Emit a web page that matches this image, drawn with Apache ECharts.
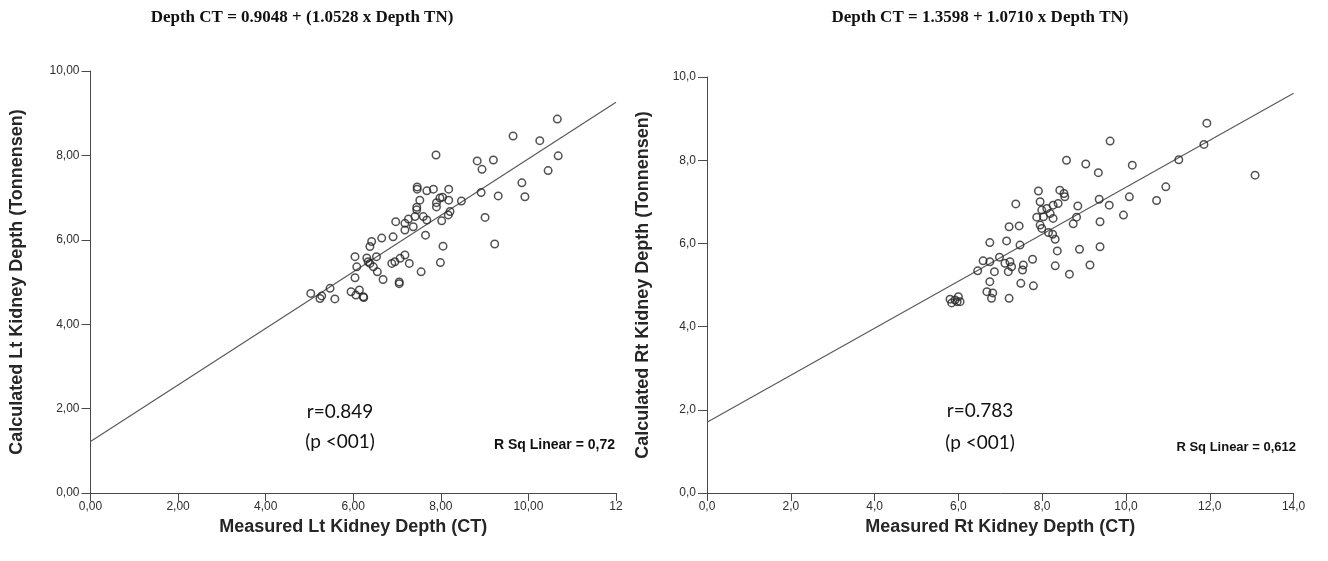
<!DOCTYPE html>
<html>
<head>
<meta charset="utf-8">
<script src="https://cdn.jsdelivr.net/npm/echarts@6/dist/echarts.min.js"></script>
<style>
html,body{margin:0;padding:0;background:#fff;}
#chart{width:1328px;height:561px;}
</style>
</head>
<body>
<div id="chart"></div>
<script>
// ---- Data ----
const titleLeft = 'Depth CT = 0.9048 + (1.0528 x Depth TN)';
const titleRight = 'Depth CT = 1.3598 + 1.0710 x Depth TN)';
const xNameLeft = 'Measured Lt Kidney Depth (CT)';
const yNameLeft = 'Calculated Lt Kidney Depth (Tonnensen)';
const xNameRight = 'Measured Rt Kidney Depth (CT)';
const yNameRight = 'Calculated Rt Kidney Depth (Tonnensen)';

// Left kidney: measured CT depth (x) and calculated Tonnensen depth (y)
const ltCT = [10.66,9.65,10.26,10.68,7.89,8.83,9.20,8.94,10.45,9.85,9.92,8.92,9.31,8.47,9.01,9.23,
  7.46,7.46,7.68,7.83,8.18,7.98,8.04,8.18,7.90,7.52,7.45,7.45,7.90,8.21,8.17,8.02,7.68,7.60,7.41,7.26,
  6.97,7.18,7.18,7.37,6.91,6.65,6.42,6.38,7.65,8.05,7.99,7.55,6.04,6.31,6.34,6.38,6.53,6.08,6.46,6.55,
  6.88,6.95,7.07,7.18,7.28,6.68,7.05,7.05,6.04,5.95,6.06,6.14,6.24,5.47,5.03,5.24,5.28,5.58,6.23];
const ltTN = [8.86,8.46,8.35,7.99,8.01,7.87,7.89,7.67,7.64,7.35,7.02,7.12,7.04,6.92,6.53,5.90,
  7.25,7.20,7.16,7.20,7.20,6.99,7.01,6.94,6.88,6.94,6.77,6.71,6.78,6.67,6.59,6.45,6.47,6.55,6.55,6.49,
  6.43,6.39,6.23,6.31,6.07,6.04,5.96,5.84,6.11,5.85,5.46,5.24,5.60,5.57,5.48,5.44,5.60,5.36,5.36,5.24,
  5.44,5.48,5.56,5.64,5.44,5.06,5.00,4.96,5.10,4.77,4.69,4.81,4.63,4.85,4.73,4.61,4.67,4.60,4.65];

// Right kidney
const rtCT = [11.93,11.86,13.08,11.26,9.62,8.58,9.04,10.15,9.34,10.95,10.73,10.08,9.36,9.60,9.94,9.38,
  9.38,9.14,8.65,8.89,8.36,8.31,8.85,8.82,8.74,7.91,8.42,8.52,8.54,8.38,8.26,7.95,8.11,7.99,8.19,7.87,
  8.03,8.26,7.95,7.99,8.15,8.25,8.31,7.37,7.21,7.45,7.15,7.47,6.75,6.59,6.75,6.98,7.11,7.23,7.27,7.19,
  7.55,7.53,7.77,6.46,6.86,6.75,7.49,7.79,6.68,6.82,7.21,6.79,5.80,5.92,6.00,5.97,5.84,6.04];
const rtTN = [8.89,8.38,7.64,8.01,8.46,8.00,7.91,7.88,7.70,7.36,7.03,7.12,7.06,6.92,6.68,6.52,
  5.92,5.48,5.26,5.86,5.82,5.46,6.90,6.63,6.47,7.26,7.28,7.20,7.12,6.96,6.92,7.00,6.84,6.80,6.72,6.63,
  6.64,6.60,6.44,6.36,6.26,6.22,6.10,6.95,6.40,6.42,6.06,5.96,6.02,5.58,5.56,5.67,5.52,5.56,5.44,5.32,
  5.48,5.36,5.62,5.34,5.32,5.08,5.04,4.98,4.84,4.81,4.68,4.68,4.66,4.64,4.72,4.60,4.57,4.60];

// Fit lines drawn in the plots (TN on CT): [intercept, slope]
const ltFit = [1.22, 0.67];
const rtFit = [1.70, 0.565];
const ltXMax = 12, rtXMax = 14;

const ltStats = ['r=0.849', '(p <001)', 'R Sq Linear = 0,72'];
const rtStats = ['r=0.783', '(p <001)', 'R Sq Linear = 0,612'];

// ---- Build ----
const zip = (a, b) => a.map((v, i) => [v, b[i]]);
const axisCol = '#4a4a4a';
const labelFont = {color: '#2e2e2e', fontFamily: 'Liberation Sans, Arial, sans-serif', fontSize: 12};
const nameFont = {color: '#262626', fontFamily: 'Liberation Sans, Arial, sans-serif', fontSize: 18, fontWeight: 'bold'};

function xAxis(gridIndex, max, fmt) {
  return {
    type: 'value', gridIndex, min: 0, max, interval: 2,
    name: gridIndex === 0 ? xNameLeft : xNameRight,
    nameLocation: 'middle', nameGap: 22, nameTextStyle: nameFont,
    axisLine: {show: true, onZero: false, lineStyle: {color: axisCol, width: 1}},
    axisTick: {show: true, length: 8, lineStyle: {color: axisCol}},
    axisLabel: Object.assign({margin: 8, formatter: fmt}, labelFont),
    splitLine: {show: false}
  };
}
function yAxis(gridIndex, fmt) {
  return {
    type: 'value', gridIndex, min: 0, max: 10, interval: 2,
    name: gridIndex === 0 ? yNameLeft : yNameRight,
    nameLocation: 'middle', nameRotate: 90, nameGap: gridIndex === 0 ? 64 : 55, nameTextStyle: nameFont,
    axisLine: {show: true, onZero: false, lineStyle: {color: axisCol, width: 1}},
    axisTick: {show: true, length: 9, lineStyle: {color: axisCol}},
    axisLabel: Object.assign({margin: 11, formatter: fmt}, labelFont),
    splitLine: {show: false}
  };
}
const fmt2 = v => v === 12 ? '12' : v.toFixed(2).replace('.', ',');
const fmt1 = v => v.toFixed(1).replace('.', ',');

const scatterStyle = {color: 'rgba(0,0,0,0)', borderColor: '#262626', borderWidth: 1.5};
function fitLine(fit, xmax) {
  return [[0, fit[0]], [xmax, fit[0] + fit[1] * xmax]];
}

const textStat = (t, x, y, size, font, weight, align) => ({
  type: 'text', x, y, z: 10,
  style: {text: t, fill: '#111', font: (weight || 'normal') + ' ' + size + 'px ' + font, textAlign: align || 'center', textVerticalAlign: 'middle'}
});

const option = {
  backgroundColor: '#fff',
  animation: false,
  grid: [
    {left: 90.5, top: 71, width: 525.5, height: 422},
    {left: 707, top: 77, width: 586.6, height: 416}
  ],
  xAxis: [xAxis(0, ltXMax, fmt2), xAxis(1, rtXMax, fmt1)],
  yAxis: [yAxis(0, fmt2), yAxis(1, fmt1)],
  series: [
    {type: 'line', xAxisIndex: 0, yAxisIndex: 0, data: fitLine(ltFit, ltXMax), symbol: 'none',
     lineStyle: {color: '#5a5a5a', width: 1.2}, z: 1},
    {type: 'scatter', xAxisIndex: 0, yAxisIndex: 0, data: zip(ltCT, ltTN), symbol: 'circle', symbolSize: 7.5,
     itemStyle: scatterStyle, z: 2},
    {type: 'line', xAxisIndex: 1, yAxisIndex: 1, data: fitLine(rtFit, rtXMax), symbol: 'none',
     lineStyle: {color: '#5a5a5a', width: 1.2}, z: 1},
    {type: 'scatter', xAxisIndex: 1, yAxisIndex: 1, data: zip(rtCT, rtTN), symbol: 'circle', symbolSize: 7.5,
     itemStyle: scatterStyle, z: 2}
  ],
  graphic: [
    textStat(titleLeft, 302, 18, 17, '"Liberation Serif", "Times New Roman", serif', 'bold'),
    textStat(titleRight, 980, 18, 17, '"Liberation Serif", "Times New Roman", serif', 'bold'),
    textStat(ltStats[0], 340, 412, 19, 'Lato, "Open Sans", sans-serif'),
    textStat(ltStats[1], 340, 442, 19, 'Lato, "Open Sans", sans-serif'),
    textStat(ltStats[2], 615, 445, 14, '"Liberation Sans", Arial, sans-serif', 'bold', 'right'),
    textStat(rtStats[0], 980, 411, 19, 'Lato, "Open Sans", sans-serif'),
    textStat(rtStats[1], 980, 443, 19, 'Lato, "Open Sans", sans-serif'),
    textStat(rtStats[2], 1296, 447, 13, '"Liberation Sans", Arial, sans-serif', 'bold', 'right')
  ]
};

const chart = echarts.init(document.getElementById('chart'), null, {renderer: 'canvas'});
chart.setOption(option);
</script>
</body>
</html>
